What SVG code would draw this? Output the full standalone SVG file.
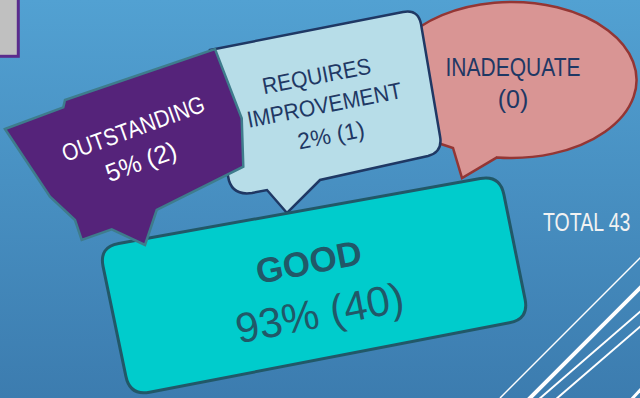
<svg xmlns="http://www.w3.org/2000/svg" width="640" height="398" viewBox="0 0 640 398">
  <defs>
    <linearGradient id="bg" x1="0" y1="0" x2="0" y2="1">
      <stop offset="0" stop-color="#52a1d2"/>
      <stop offset="1" stop-color="#3c7caf"/>
    </linearGradient>
  </defs>
  <style>
    text { font-family: "Liberation Sans", Arial, sans-serif; }
    .deco { stroke: #ffffff; fill: none; stroke-linecap: butt; }
  </style>
  <rect x="0" y="0" width="640" height="398" fill="url(#bg)"/>
  <rect x="-5" y="-5" width="23.3" height="61.3" fill="#c0c0c0" stroke="#5b2c8c" stroke-width="3"/>

  <g id="decor">
    <line class="deco" x1="500" y1="398" x2="642" y2="256" stroke-width="1.5"/>
    <line class="deco" x1="528" y1="400" x2="642" y2="286" stroke-width="4"/>
    <line class="deco" x1="538" y1="400" x2="642" y2="310" stroke-width="2"/>
    <line class="deco" x1="555" y1="400" x2="642" y2="325" stroke-width="2"/>
    <line class="deco" x1="630" y1="401" x2="642" y2="388" stroke-width="3"/>
  </g>

  <g id="connectors"></g>

  <g id="node-inadequate">
    <path d="M497,157.4 A125,78 0 1 0 438,143 L453,148 L462,178 Z" fill="#d99594" stroke="#943634" stroke-width="2.5" stroke-linejoin="miter"/>
    <text x="513" y="76" font-size="25" fill="#1f3864" text-anchor="middle" textLength="135" lengthAdjust="spacingAndGlyphs">INADEQUATE</text>
    <text x="513" y="108" font-size="25" fill="#1f3864" text-anchor="middle">(0)</text>
  </g>

  <g id="node-requires">
    <path d="M210,50 L403,12 Q418,9 421,24 L440,136 Q443,152 428,156 L320,180 L287,213 L267,190 L252,193 Q231,196 228,176 Z" fill="#b7dde8" stroke="#1f3864" stroke-width="2.5" stroke-linejoin="miter"/>
    <g transform="rotate(-11 324 104)" fill="#1f3864" font-size="23" text-anchor="middle">
      <text x="322" y="83" textLength="110" lengthAdjust="spacingAndGlyphs">REQUIRES</text>
      <text x="324" y="113" textLength="157" lengthAdjust="spacingAndGlyphs">IMPROVEMENT</text>
      <text x="325" y="144">2% (1)</text>
    </g>
  </g>

  <g id="node-good">
    <path d="M118.7,243.5 L480.3,178.5 Q500,175 503.9,194.6 L525.1,299.4 Q529,319 509.4,322.8 L149.6,392.2 Q130,396 125.9,376.4 L103.1,266.6 Q99,247 118.7,243.5 Z" fill="#00cccc" stroke="#215868" stroke-width="3"/>
    <g transform="rotate(-11 314 284)" fill="#215868" text-anchor="middle">
      <text x="313" y="273.5" font-size="35" font-weight="bold">GOOD</text>
      <text x="314" y="328" font-size="42">93% (40)</text>
    </g>
  </g>

  <g id="node-outstanding">
    <polygon points="5,129 63.3,107.3 65,100 215,49 241.7,118.3 243.3,166.7 156.7,210 145,245 111.7,229.3 81.7,240 75,220 50,196.7" fill="#55237a" stroke="#3e7c8c" stroke-width="2.5" stroke-linejoin="miter"/>
    <g transform="rotate(-20 136 145)" fill="#ffffff" text-anchor="middle" font-size="24">
      <text x="139" y="137" textLength="150" lengthAdjust="spacingAndGlyphs">OUTSTANDING</text>
      <text x="135" y="171" font-size="25">5% (2)</text>
    </g>
  </g>

  <g id="node-total">
    <text x="0" y="0" transform="translate(543 231) scale(0.78 1)" font-size="25" fill="#f2f2f2">TOTAL 43</text>
  </g>
</svg>
